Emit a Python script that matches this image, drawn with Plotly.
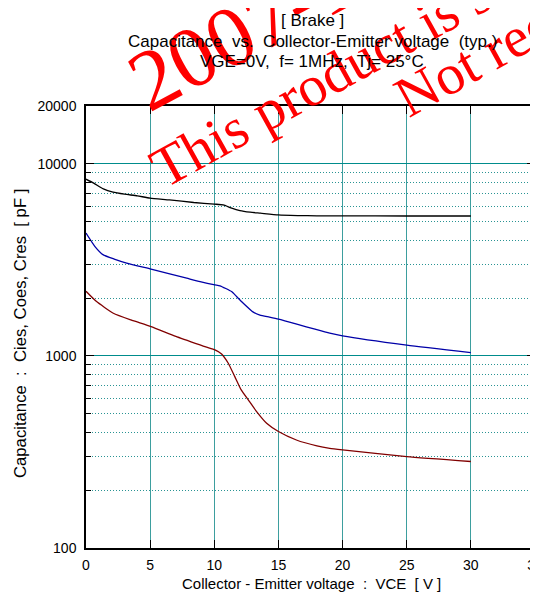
import plotly.graph_objects as go

# ---- data ----
cies_x = [0, 0.6, 1.35, 2.1, 3, 4, 5, 6.5, 8.4, 10, 10.7, 11.3, 12, 12.8, 13.6, 15, 16.5, 18, 20, 25, 30]
cies_y = [8320, 7935, 7410, 7120, 6950, 6810, 6630, 6490, 6290, 6170, 6110, 5900, 5710, 5600, 5535, 5420, 5380, 5360, 5360, 5350, 5350]

coes_x = [0, 0.7, 1.35, 2.2, 3.17, 5.07, 7.85, 8.89, 10.05, 10.44, 11.35, 11.74, 12.26, 13.04, 13.56, 14.3, 15, 16.5, 17.85, 19, 20, 25, 30]
coes_y = [4360, 3710, 3357, 3192, 3041, 2829, 2538, 2436, 2343, 2317, 2163, 2037, 1881, 1690, 1630, 1592, 1555, 1460, 1377, 1313, 1270, 1137, 1040]

cres_x = [0, 0.8, 2.13, 3.5, 5.07, 7, 8.89, 9.4, 10.05, 10.57, 11.09, 11.6, 12.1, 12.65, 13.3, 14.08, 15, 16.4, 18, 19, 20, 25, 30]
cres_y = [2170, 1924, 1668, 1539, 1421, 1263, 1140, 1110, 1075, 1024, 916, 780, 665, 590, 513, 446, 404, 365, 340, 330, 324, 299, 282]

x_ticks = [0, 5, 10, 15, 20, 25, 30, 35]
y_major = [100, 1000, 10000, 20000]
y_major_text = ["100", "1000", "10000", "20000"]
y_minor = [200, 300, 400, 500, 600, 700, 800, 900,
           2000, 3000, 4000, 5000, 6000, 7000, 8000, 9000]

series_names = ["Cies", "Coes", "Cres"]
series_colors = ["#000000", "#0000a8", "#800000"]
label_y = [5360, 1080, 282]

NB = "\u00a0"
title_lines = ["[ Brake ]",
               "Capacitance" + NB + " vs." + NB + " Collector-Emitter voltage" + NB + " (typ.)",
               "VGE=0V," + NB + " f= 1MHz," + NB + " Tj= 25°C"]
x_title = "Collector - Emitter voltage" + NB + " :" + NB + " VCE" + NB + " [ V ]"
y_title = "Capacitance" + NB + " :" + NB + " Cies, Coes, Cres" + NB + " [ pF ]"

FONT = "Liberation Sans, Arial, sans-serif"
SERIF = "Liberation Serif, Times New Roman, serif"


def px(xp):
    return (xp - 86) / 449


def py(yp):
    return (548 - yp) / 442


fig = go.Figure()
for xs, ys, name, col in zip([cies_x, coes_x, cres_x], [cies_y, coes_y, cres_y],
                             series_names, series_colors):
    fig.add_trace(go.Scatter(x=xs, y=ys, mode="lines", name=name,
                             line=dict(color=col, width=1.3, shape="spline", smoothing=0.5),
                             showlegend=False, hoverinfo="skip"))

annotations = []
# watermark
annotations.append(dict(text="2007-1", x=px(243), y=py(30), xref="paper", yref="paper",
                        showarrow=False, textangle=-28, xanchor="center", yanchor="middle",
                        font=dict(family=SERIF, size=86, color="#ff0000")))
annotations.append(dict(text="This product is s", x=px(320), y=py(80), xref="paper", yref="paper",
                        showarrow=False, textangle=-29, xanchor="center", yanchor="middle",
                        font=dict(family=SERIF, size=57, color="#ff0000")))
annotations.append(dict(text="Not rec", x=px(473), y=py(61), xref="paper", yref="paper",
                        showarrow=False, textangle=-29, xanchor="center", yanchor="middle",
                        font=dict(family=SERIF, size=57, color="#ff0000")))
# titles
for t, yy in zip(title_lines, [20, 41, 62]):
    annotations.append(dict(text=t, x=px(312), y=py(yy), xref="paper", yref="paper",
                            showarrow=False, xanchor="center", yanchor="middle",
                            font=dict(family=FONT, size=17, color="black")))
annotations.append(dict(text=x_title, x=px(311), y=py(583), xref="paper", yref="paper",
                        showarrow=False, xanchor="center", yanchor="middle",
                        font=dict(family=FONT, size=15, color="black")))
annotations.append(dict(text=y_title, x=px(20), y=py(334), xref="paper", yref="paper",
                        showarrow=False, xanchor="center", yanchor="middle", textangle=-90,
                        font=dict(family=FONT, size=16.7, color="black")))
# curve labels
for name, col, ly in zip(series_names, series_colors, label_y):
    annotations.append(dict(text=name, x=30.6, y=ly, xref="x", yref="y", yanchor="middle",
                            xanchor="left", showarrow=False, bgcolor="white", borderpad=1,
                            font=dict(family=FONT, size=13.5, color=col)))

fig.update_layout(
    # the page body adds an 8px offset; size chosen so the page needs no scrollbars
    width=530, height=600,
    margin=dict(l=78, r=3, t=98, b=60, autoexpand=False),
    paper_bgcolor="white", plot_bgcolor="white",
    font=dict(family=FONT, size=14, color="black"),
    annotations=annotations,
    xaxis=dict(range=[0, 35], tickvals=x_ticks, ticktext=[str(v) for v in x_ticks],
               ticks="inside", ticklen=8, tickcolor="black", tickwidth=1.2,
               showline=True, linecolor="black", linewidth=1.5, mirror="ticks",
               showgrid=True, gridcolor="#3d9e9e", gridwidth=1.4, zeroline=False,
               ticklabelstandoff=3, ticklabeloverflow="allow",
               tickfont=dict(family=FONT, size=14, color="black")),
    yaxis=dict(type="log", range=[2, 4.30103], tickvals=y_major, ticktext=y_major_text,
               ticks="inside", ticklen=8, tickcolor="black", tickwidth=1.2,
               showline=True, linecolor="black", linewidth=1.5, mirror="ticks",
               showgrid=True, gridcolor="#008c8c", gridwidth=1.4, zeroline=False,
               ticklabelstandoff=5,
               tickfont=dict(family=FONT, size=14, color="black"),
               minor=dict(tickvals=y_minor, ticks="inside", ticklen=5, tickcolor="black",
                          tickwidth=1.2, showgrid=True, gridcolor="#2a9494",
                          griddash="1px,2px", gridwidth=1)),
)

fig.write_html("out.html")
